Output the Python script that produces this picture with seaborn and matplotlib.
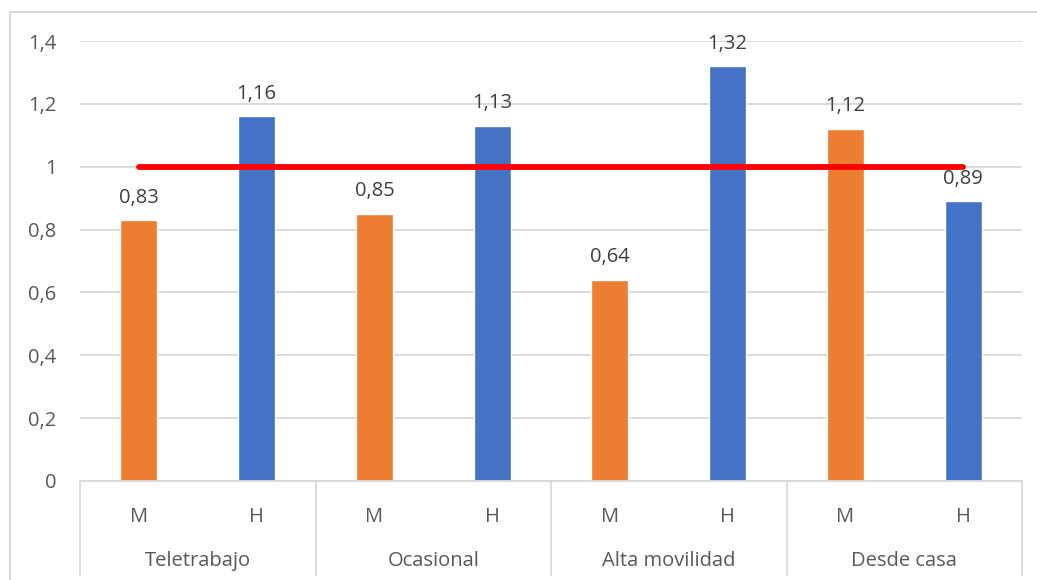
import matplotlib
matplotlib.use("Agg")
import matplotlib.pyplot as plt
import matplotlib.lines as mlines
import seaborn as sns
import pandas as pd

# Data
groups = ["Teletrabajo", "Ocasional", "Alta movilidad", "Desde casa"]
sexes = ["M", "H"]
values = [0.83, 1.16, 0.85, 1.13, 0.64, 1.32, 1.12, 0.89]
reference = 1.0
y_ticks = [0, 0.2, 0.4, 0.6, 0.8, 1.0, 1.2, 1.4]

ORANGE = "#ED7D31"
BLUE = "#4472C4"
RED = "#FF0000"
GRID = "#D9D9D9"
TEXT = "#595959"
FS = 14.5

sns.set_theme(style="white")
plt.rcParams["font.family"] = ["Open Sans", "DejaVu Sans"]

rows = []
for gi, g in enumerate(groups):
    for si, s in enumerate(sexes):
        rows.append({"slot": f"{g}|{s}", "group": g, "sex": s,
                     "value": values[gi * len(sexes) + si]})
df = pd.DataFrame(rows)
slot_order = list(df["slot"])

W, H = 1037, 580
fig = plt.figure(figsize=(W / 100, H / 100), dpi=100)
ax = fig.add_axes([80 / W, (H - 481) / H, 942 / W, 440 / H])

sns.barplot(data=df, x="slot", y="value", hue="sex", order=slot_order,
            hue_order=sexes, palette={"M": ORANGE, "H": BLUE},
            dodge=False, width=0.315, legend=False, ax=ax, saturation=1)

ax.set_ylim(0, 1.4)
ax.set_xlim(-0.5, len(slot_order) - 0.5)

# Gridlines and value axis
ax.set_yticks(y_ticks)
ax.set_yticklabels([f"{t:g}".replace(".", ",") for t in y_ticks],
                   color=TEXT, fontsize=FS)
ax.yaxis.grid(True, color=GRID, linewidth=1.3)
ax.set_axisbelow(True)
ax.tick_params(axis="y", length=0, pad=17)

for s in ["top", "right", "left"]:
    ax.spines[s].set_visible(False)
ax.spines["bottom"].set_color(GRID)
ax.spines["bottom"].set_linewidth(1.3)

# Value labels
for cont in ax.containers:
    labels = [f"{b.get_height():.2f}".replace(".", ",") for b in cont]
    ax.bar_label(cont, labels=labels, padding=9, color="#404040",
                 fontsize=FS, clip_on=False)

# Reference line at 1
ref_df = pd.DataFrame({"slot": [0, len(slot_order) - 1],
                       "value": [reference, reference]})
sns.lineplot(data=ref_df, x="slot", y="value", color=RED, linewidth=4.2,
             solid_capstyle="round", ax=ax, zorder=5)
ax.set_xlabel("")
ax.set_ylabel("")

# Two-level category axis
ax.set_xticks(range(len(slot_order)))
ax.set_xticklabels(list(df["sex"]), color=TEXT, fontsize=FS)
ax.tick_params(axis="x", length=0, pad=19)

trans = ax.get_xaxis_transform()
n_per = len(sexes)
for gi, g in enumerate(groups):
    center = gi * n_per + (n_per - 1) / 2
    ax.text(center, -0.182, g, transform=trans, ha="center",
            va="center", color=TEXT, fontsize=FS, clip_on=False)
for k in range(len(groups) + 1):
    xpos = k * n_per - 0.5
    ax.plot([xpos, xpos], [0, -0.214], transform=trans, color=GRID,
            linewidth=1.3, clip_on=False)

# Chart frame (top and left edges)
fig.add_artist(mlines.Line2D([10 / W, 1], [1 - 12 / H, 1 - 12 / H],
                             color=GRID, linewidth=1.5))
fig.add_artist(mlines.Line2D([10 / W, 10 / W], [0, 1 - 12 / H],
                             color=GRID, linewidth=1.5))

fig.savefig("out.png", dpi=100, facecolor="white")
